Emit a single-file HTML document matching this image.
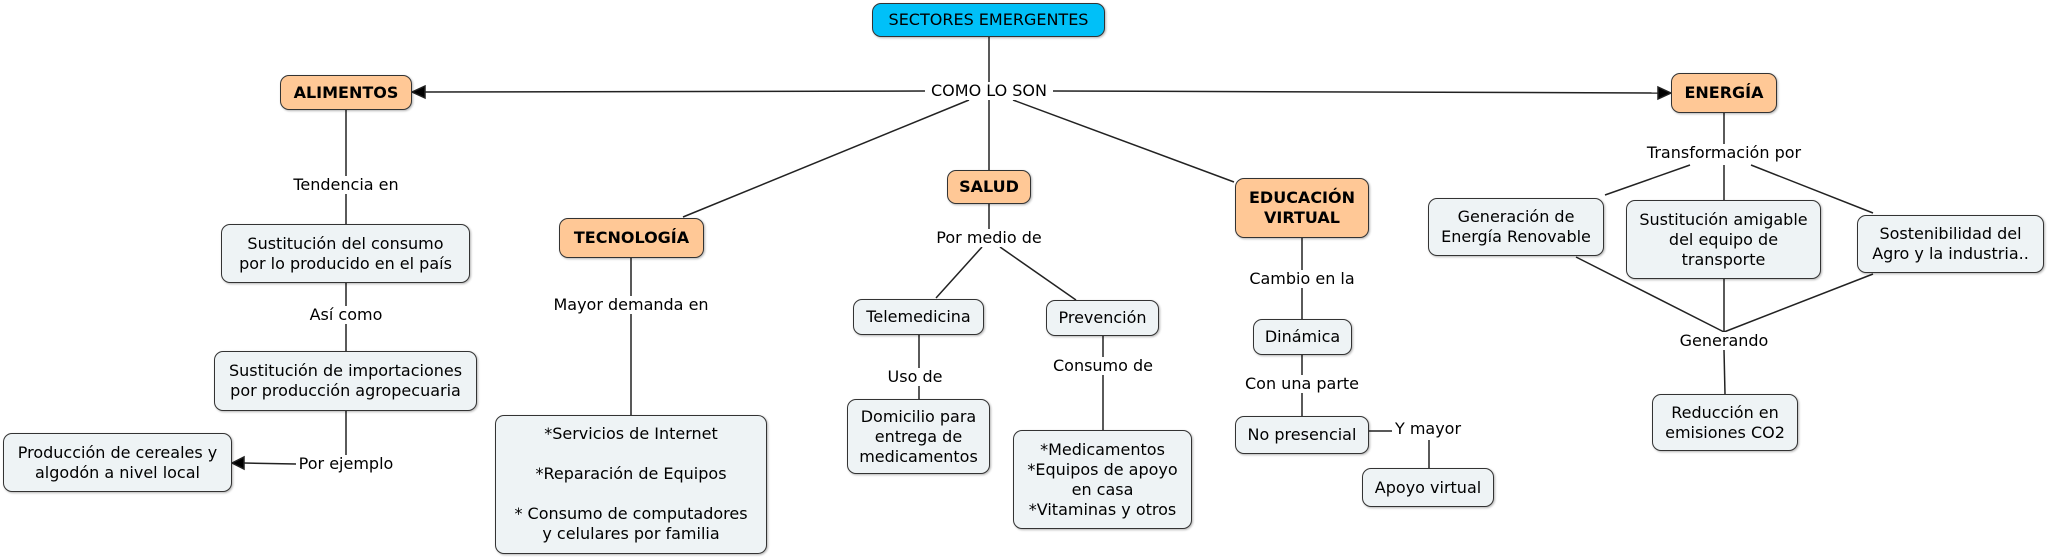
<!DOCTYPE html>
<html><head><meta charset="utf-8"><style>
body{margin:0;width:2048px;height:557px;background:#fff;position:relative;overflow:hidden;font-family:"DejaVu Sans","Liberation Sans",sans-serif;font-size:16px;color:#000}
.n{position:absolute;box-sizing:border-box;border:1.5px solid #333;border-radius:9px;background:#eef3f5;display:flex;align-items:center;justify-content:center;text-align:center;line-height:20px;box-shadow:1px 1px 2px rgba(0,0,0,.3);white-space:nowrap}
.o{background:#ffc896;font-weight:bold}
.b{background:#00c0f8}
.l{position:absolute;transform:translate(-50%,-50%);background:#fff;white-space:nowrap;padding:0 2px;line-height:18px}
svg{position:absolute;left:0;top:0}
</style></head><body>
<svg width="2048" height="557" stroke="#222" stroke-width="1.5" fill="none">
<line x1="989" y1="37" x2="989" y2="170"/>
<line x1="925" y1="91" x2="424" y2="92"/>
<polygon points="412,92 425,86 425,98" fill="#000"/>
<line x1="1053" y1="91" x2="1659" y2="93"/>
<polygon points="1671,93 1658,87 1658,99" fill="#000"/>
<line x1="969" y1="100" x2="683" y2="217"/>
<line x1="1013" y1="100" x2="1234" y2="182"/>
<line x1="346" y1="110" x2="346" y2="224"/>
<line x1="346" y1="283" x2="346" y2="351"/>
<line x1="346" y1="411" x2="346" y2="455"/>
<line x1="296" y1="464" x2="244" y2="463"/>
<polygon points="232,463 244,457 244,469" fill="#000"/>
<line x1="631" y1="258" x2="631" y2="415"/>
<line x1="989" y1="204" x2="989" y2="230"/>
<line x1="982" y1="247" x2="936" y2="298"/>
<line x1="1000" y1="247" x2="1076" y2="300"/>
<line x1="919" y1="335" x2="919" y2="399"/>
<line x1="1103" y1="336" x2="1103" y2="430"/>
<line x1="1302" y1="238" x2="1302" y2="319"/>
<line x1="1302" y1="355" x2="1302" y2="416"/>
<line x1="1369" y1="431" x2="1392" y2="431"/>
<line x1="1429" y1="440" x2="1429" y2="468"/>
<line x1="1724" y1="113" x2="1724" y2="144"/>
<line x1="1690" y1="165" x2="1605" y2="195"/>
<line x1="1724" y1="165" x2="1724" y2="200"/>
<line x1="1751" y1="165" x2="1873" y2="213"/>
<line x1="1576" y1="257" x2="1724" y2="332"/>
<line x1="1724" y1="279" x2="1724" y2="332"/>
<line x1="1873" y1="274" x2="1724" y2="332"/>
<line x1="1724" y1="350" x2="1725" y2="394"/>
</svg>
<div class="n b" style="left:872px;top:3px;width:233px;height:34px">SECTORES EMERGENTES</div>
<div class="l" style="left:989px;top:91px">COMO LO SON</div>
<div class="n o" style="left:280px;top:75px;width:132px;height:35px">ALIMENTOS</div>
<div class="n o" style="left:1671px;top:73px;width:106px;height:40px">ENERGÍA</div>
<div class="n o" style="left:559px;top:218px;width:145px;height:40px">TECNOLOGÍA</div>
<div class="n o" style="left:947px;top:170px;width:84px;height:34px">SALUD</div>
<div class="n o" style="left:1235px;top:178px;width:134px;height:60px">EDUCACIÓN<br>VIRTUAL</div>
<div class="l" style="left:346px;top:185px">Tendencia en</div>
<div class="n" style="left:221px;top:224px;width:249px;height:59px">Sustitución del consumo<br>por lo producido en el país</div>
<div class="l" style="left:346px;top:315px">Así como</div>
<div class="n" style="left:214px;top:351px;width:263px;height:60px">Sustitución de importaciones<br>por producción agropecuaria</div>
<div class="l" style="left:346px;top:464px">Por ejemplo</div>
<div class="n" style="left:3px;top:433px;width:229px;height:59px">Producción de cereales y<br>algodón a nivel local</div>
<div class="l" style="left:631px;top:305px">Mayor demanda en</div>
<div class="n" style="left:495px;top:415px;width:272px;height:139px;display:block;padding-top:8px">*Servicios de Internet<br><br>*Reparación de Equipos<br><br>* Consumo de computadores<br>y celulares por familia</div>
<div class="l" style="left:989px;top:238px">Por medio de</div>
<div class="n" style="left:853px;top:299px;width:131px;height:36px">Telemedicina</div>
<div class="n" style="left:1046px;top:300px;width:113px;height:36px">Prevención</div>
<div class="l" style="left:915px;top:377px">Uso de</div>
<div class="n" style="left:847px;top:399px;width:143px;height:75px">Domicilio para<br>entrega de<br>medicamentos</div>
<div class="l" style="left:1103px;top:366px">Consumo de</div>
<div class="n" style="left:1013px;top:430px;width:179px;height:99px">*Medicamentos<br>*Equipos de apoyo<br>en casa<br>*Vitaminas y otros</div>
<div class="l" style="left:1302px;top:279px">Cambio en la</div>
<div class="n" style="left:1253px;top:319px;width:99px;height:36px">Dinámica</div>
<div class="l" style="left:1302px;top:384px">Con una parte</div>
<div class="n" style="left:1235px;top:416px;width:134px;height:38px">No presencial</div>
<div class="l" style="left:1428px;top:429px">Y mayor</div>
<div class="n" style="left:1362px;top:468px;width:132px;height:39px">Apoyo virtual</div>
<div class="l" style="left:1724px;top:153px">Transformación por</div>
<div class="n" style="left:1428px;top:198px;width:176px;height:58px">Generación de<br>Energía Renovable</div>
<div class="n" style="left:1626px;top:200px;width:195px;height:79px">Sustitución amigable<br>del equipo de<br>transporte</div>
<div class="n" style="left:1857px;top:215px;width:187px;height:58px">Sostenibilidad del<br>Agro y la industria..</div>
<div class="l" style="left:1724px;top:341px">Generando</div>
<div class="n" style="left:1652px;top:394px;width:146px;height:57px">Reducción en<br>emisiones CO2</div>
</body></html>
